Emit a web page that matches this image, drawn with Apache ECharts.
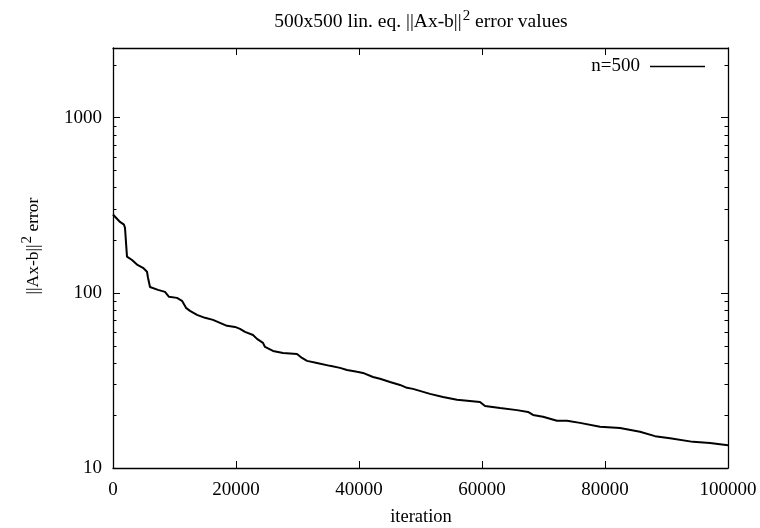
<!DOCTYPE html>
<html>
<head>
<meta charset="utf-8">
<script src="https://cdn.jsdelivr.net/npm/echarts@6/dist/echarts.min.js"></script>
<style>html,body{margin:0;padding:0;background:#fff;}#c{width:760px;height:528px;}</style>
</head>
<body>
<div id="c"></div>
<script>
// ---- data ----
const iterations = [0, 1138, 1789, 1951, 2276, 3089, 3902, 4878, 5528, 5691, 6016, 6341, 7317, 8455, 9106, 10406, 11219, 11870, 12520, 13659, 14959, 16260, 17398, 18537, 19837, 20650, 21463, 22764, 23415, 24390, 24715, 26016, 27642, 29919, 30732, 31545, 33171, 35285, 36911, 38049, 39675, 40650, 42276, 43415, 45041, 46667, 47805, 48780, 51545, 53659, 55935, 59675, 60488, 62927, 65691, 67480, 68293, 69919, 72195, 73821, 75935, 79187, 82439, 85691, 88130, 90569, 94309, 97073, 100000];
const errors = [280, 254, 245, 235, 161, 154, 145, 139, 132, 122, 108, 107, 104, 101.3, 94.9, 93.6, 90.0, 82.1, 78.9, 74.9, 72.0, 70.1, 67.4, 64.8, 63.9, 62.3, 59.9, 57.5, 54.6, 51.8, 49.1, 46.6, 45.4, 44.8, 42.5, 40.9, 39.8, 38.3, 37.3, 36.3, 35.4, 34.9, 33.1, 32.3, 31.0, 29.8, 28.7, 28.3, 26.5, 25.4, 24.5, 23.8, 22.6, 22.0, 21.4, 20.9, 20.1, 19.6, 18.6, 18.6, 18.1, 17.2, 16.9, 16.1, 15.2, 14.8, 14.1, 13.9, 13.5];
const seriesName = 'n=500';
const yMajorTicks = [10, 100, 1000];
const yMinorTicks = [20, 30, 40, 50, 60, 70, 80, 90, 200, 300, 400, 500, 600, 700, 800, 900, 2000];
const titleText = '500x500 lin. eq. ||Ax-b||{sup|2} error values';
const yNameText = '||Ax-b||{sup|2} error';
const xNameText = 'iteration';

const FONT = '"Liberation Serif", "Times New Roman", serif';
const chart = echarts.init(document.getElementById('c'), null, {renderer: 'canvas'});
const lineCol = '#000';
const axisLine = {show: true, onZero: false, lineStyle: {color: lineCol, width: 1.3}};
const labelStyle = {color: '#000', fontFamily: FONT, fontSize: 19};
const data = iterations.map((x, i) => [x, errors[i]]);
const plain = v => String(v);

function xAx(pos, showLabel) {
  return {
    type: 'value', position: pos, min: 0, max: 100000, interval: 20000,
    axisLine: axisLine,
    axisTick: {show: true, inside: true, length: 7, lineStyle: {color: lineCol, width: 1}},
    axisLabel: Object.assign({show: showLabel, margin: 13, hideOverlap: false, formatter: plain}, labelStyle),
    splitLine: {show: false}
  };
}
function yAx(pos, showLabel) {
  return {
    type: 'log', logBase: 10, position: pos, min: 10, max: 2500,
    axisLine: axisLine,
    axisTick: {show: true, inside: true, length: 7, customValues: yMajorTicks, lineStyle: {color: lineCol, width: 1}},
    axisLabel: Object.assign({show: showLabel, margin: 11, customValues: yMajorTicks, formatter: plain}, labelStyle),
    splitLine: {show: false}
  };
}
const supStyle = {fontSize: 15, fontFamily: FONT, fill: '#000', verticalAlign: 'top', padding: [0, 0, 12, 1]};

chart.setOption({
  animation: false,
  backgroundColor: '#fff',
  grid: {left: 113, right: 32, top: 48, bottom: 60, containLabel: false},
  xAxis: [xAx('bottom', true), xAx('top', false)],
  yAxis: [yAx('left', true), yAx('right', false)],
  legend: {
    show: true, right: 50, top: 52, align: 'right', itemWidth: 55, itemHeight: 1.6,
    icon: 'rect', itemStyle: {color: '#000', borderWidth: 0},
    textStyle: {color: '#000', fontFamily: FONT, fontSize: 19, padding: [0, 5, 0, 0]},
    data: [{name: seriesName, icon: 'rect'}]
  },
  series: [{
    name: seriesName, type: 'line', data: data, xAxisIndex: 0, yAxisIndex: 0,
    showSymbol: false, symbol: 'none',
    lineStyle: {color: '#000', width: 2}, itemStyle: {color: '#000'}
  }],
  graphic: [
    {
      type: 'text', x: 421, y: 22,
      style: {
        text: titleText, align: 'center', verticalAlign: 'middle',
        fill: '#000', fontFamily: FONT, fontSize: 19.5,
        rich: {sup: supStyle}
      }
    },
    {
      type: 'text', x: 33, y: 246, rotation: Math.PI / 2,
      style: {
        text: yNameText, align: 'center', verticalAlign: 'middle',
        fill: '#000', fontFamily: FONT, fontSize: 17.5,
        rich: {sup: supStyle}
      }
    },
    {
      type: 'text', x: 421, y: 517,
      style: {text: xNameText, align: 'center', verticalAlign: 'middle', fill: '#000', fontFamily: FONT, fontSize: 18.5}
    }
  ]
});

// minor log ticks on left and right, positioned through the y axis scale
const xL = chart.convertToPixel({xAxisIndex: 0}, 0);
const xR = chart.convertToPixel({xAxisIndex: 0}, 100000);
const minor = [];
yMinorTicks.forEach(v => {
  const py = Math.round(chart.convertToPixel({yAxisIndex: 0}, v)) + 0.5;
  minor.push({type: 'line', shape: {x1: xL, y1: py, x2: xL + 3.5, y2: py}, style: {stroke: '#000', lineWidth: 1}, silent: true});
  minor.push({type: 'line', shape: {x1: xR, y1: py, x2: xR - 3.5, y2: py}, style: {stroke: '#000', lineWidth: 1}, silent: true});
});
chart.setOption({graphic: chart.getOption().graphic[0].elements.concat(minor)}, {replaceMerge: []});
</script>
</body>
</html>
